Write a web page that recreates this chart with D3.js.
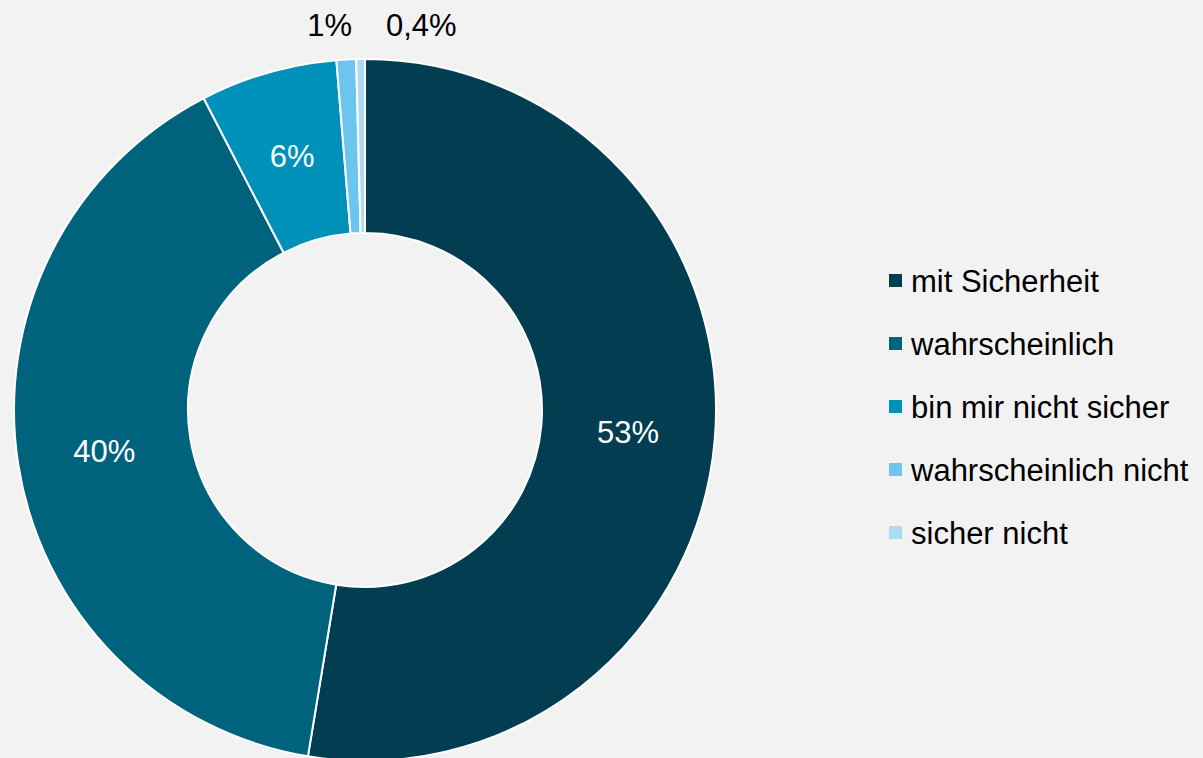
<!DOCTYPE html>
<html>
<head>
<meta charset="utf-8">
<script src="https://cdn.jsdelivr.net/npm/d3@7"></script>
<style>
  html, body { margin: 0; padding: 0; background: #f2f2f2; }
  svg { display: block; }
</style>
</head>
<body>
<div id="chart"></div>
<script>
// answer categories, shares (percent) and the printed labels
var categories = ["mit Sicherheit", "wahrscheinlich", "bin mir nicht sicher", "wahrscheinlich nicht", "sicher nicht"];
var values = [52.6, 39.8, 6.3, 0.9, 0.4];
var labels = ["53%", "40%", "6%", "1%", "0,4%"];
var colors = ["#023d51", "#00637e", "#0091ba", "#6bc5ef", "#aedbf2"];

var W = 1203, H = 758;
var cx = 365, cy = 410, rOut = 351, rIn = 177;

var svg = d3.select("#chart").append("svg")
    .attr("width", W)
    .attr("height", H)
    .style("font-family", "'Liberation Sans', Arial, sans-serif");

svg.append("rect").attr("width", W).attr("height", H).attr("fill", "#f2f2f2");

var color = d3.scaleOrdinal().domain(categories).range(colors);

var pie = d3.pie().sort(null).value(function(d) { return d.v; });
var arcs = pie(categories.map(function(c, i) { return {cat: c, v: values[i], lab: labels[i]}; }));

var arc = d3.arc().innerRadius(rIn).outerRadius(rOut);

var g = svg.append("g").attr("transform", "translate(" + cx + "," + cy + ")");

g.selectAll("path.slice")
    .data(arcs)
  .enter().append("path")
    .attr("class", "slice")
    .attr("d", arc)
    .attr("fill", function(d) { return color(d.data.cat); })
    .attr("stroke", "#ffffff")
    .attr("stroke-width", 2)
    .attr("stroke-linejoin", "round");

// labels: inside for big slices, above the ring for the tiny ones
g.selectAll("text.lab")
    .data(arcs)
  .enter().append("text")
    .attr("class", "lab")
    .attr("font-size", "31px")
    .attr("dy", "0.36em")
    .attr("fill", function(d) { return d.data.v > 3 ? "#ffffff" : "#000000"; })
    .attr("text-anchor", function(d) {
        if (d.data.v > 3) return "middle";
        return d.index === 3 ? "end" : "start";
    })
    .attr("x", function(d) {
        if (d.data.v > 3) return arc.centroid(d)[0];
        return d.index === 3 ? -13 : 21;
    })
    .attr("y", function(d) {
        if (d.data.v > 3) return arc.centroid(d)[1];
        return -rOut - 34;
    })
    .text(function(d) { return d.data.lab; });

// legend
var legend = svg.append("g").attr("transform", "translate(889,281)");
var item = legend.selectAll("g")
    .data(categories)
  .enter().append("g")
    .attr("transform", function(d, i) { return "translate(0," + (i * 63) + ")"; });

item.append("rect")
    .attr("x", 0).attr("y", -7)
    .attr("width", 13).attr("height", 13)
    .attr("fill", function(d) { return color(d); });

item.append("text")
    .attr("x", 22)
    .attr("dy", "0.36em")
    .attr("font-size", "31px")
    .attr("fill", "#000000")
    .text(function(d) { return d; });
</script>
</body>
</html>
